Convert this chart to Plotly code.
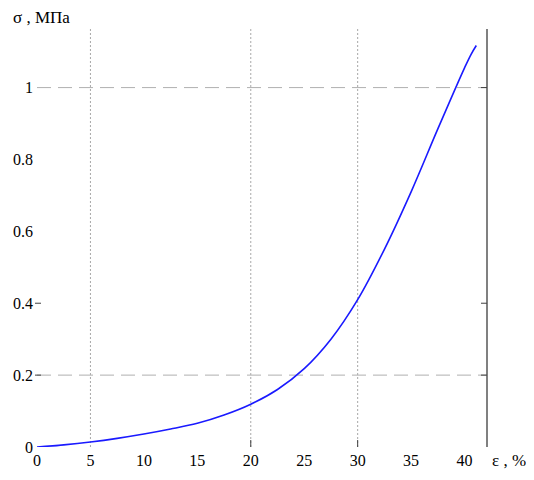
import plotly.graph_objects as go

# strain, %
strain = [0.0, 2.5, 5.0, 7.5, 10.0, 12.5, 15.0, 17.5, 20.0, 22.5, 25.0, 27.5,
          30.0, 32.5, 35.0, 37.5, 40.0, 40.6, 41.1]
# stress, MPa
stress = [0.0, 0.006, 0.014, 0.024, 0.036, 0.050, 0.066, 0.089, 0.119, 0.160, 0.218, 0.300,
          0.410, 0.550, 0.710, 0.885, 1.055, 1.092, 1.117]

x_ticks = [0, 5, 10, 15, 20, 25, 30, 35, 40]
y_ticks = [0, 0.2, 0.4, 0.6, 0.8, 1]
y_tick_labels = ["0", "0.2", "0.4", "0.6", "0.8", "1"]
x_grid = [5, 20, 30]
y_grid = [0.2, 1]
x_marks = [20, 30]
y_marks_right = [0.2, 0.4, 1]
y_marks_left = [0.2, 0.4]

X_MAX = 42.1
Y_MAX = 1.163
FONT = "Liberation Serif"

fig = go.Figure()
fig.add_trace(go.Scatter(x=strain, y=stress, mode="lines",
                         line=dict(color="#1a1aff", width=1.6, shape="spline", smoothing=1.0),
                         hoverinfo="skip", showlegend=False))

shapes = []
for gx in x_grid:
    shapes.append(dict(type="line", xref="x", yref="paper", x0=gx, x1=gx, y0=0, y1=1,
                       line=dict(color="#a8a8a8", width=1, dash="2px,2px"), layer="below"))
for gy in y_grid:
    shapes.append(dict(type="line", xref="paper", yref="y", x0=0, x1=1, y0=gy, y1=gy,
                       line=dict(color="#b0b0b0", width=1, dash="14px,7px"), layer="below"))
shapes.append(dict(type="line", xref="paper", yref="paper", x0=1, x1=1, y0=0, y1=1,
                   line=dict(color="#808080", width=2)))
# small tick marks
for mx in x_marks:
    shapes.append(dict(type="line", xref="x", yref="paper", x0=mx, x1=mx,
                       ysizemode="pixel", yanchor=0, y0=0, y1=7,
                       line=dict(color="#404040", width=1)))
for my in y_marks_right:
    shapes.append(dict(type="line", xref="paper", yref="y", y0=my, y1=my,
                       xsizemode="pixel", xanchor=1, x0=-6, x1=0,
                       line=dict(color="#404040", width=1)))
for my in y_marks_left:
    shapes.append(dict(type="line", xref="paper", yref="y", y0=my, y1=my,
                       xsizemode="pixel", xanchor=0, x0=-2, x1=4,
                       line=dict(color="#404040", width=1)))

fig.update_layout(
    width=526, height=472,
    margin=dict(l=29, r=47, t=21, b=33),
    paper_bgcolor="white", plot_bgcolor="white",
    font=dict(family=FONT, size=16, color="black"),
    shapes=shapes,
    xaxis=dict(range=[0, X_MAX], tickvals=x_ticks, showgrid=False, zeroline=False,
               showline=False, ticks="", ticklabelstandoff=2, automargin=False),
    yaxis=dict(range=[0, Y_MAX], tickvals=y_ticks, ticktext=y_tick_labels, showgrid=False,
               zeroline=False, showline=False, ticks="", ticklabelstandoff=3, automargin=False),
    annotations=[
        dict(text="σ , МПа", xref="paper", yref="paper", x=0, y=1.0, xanchor="left",
             yanchor="middle", xshift=-26, yshift=12, showarrow=False, font=dict(family=FONT, size=17)),
        dict(text="ε , %", xref="paper", yref="paper", x=1.0, y=0.0, xanchor="left",
             yanchor="middle", xshift=3, yshift=-13, showarrow=False, font=dict(family=FONT, size=17)),
    ],
)

fig.write_html("out.html")
